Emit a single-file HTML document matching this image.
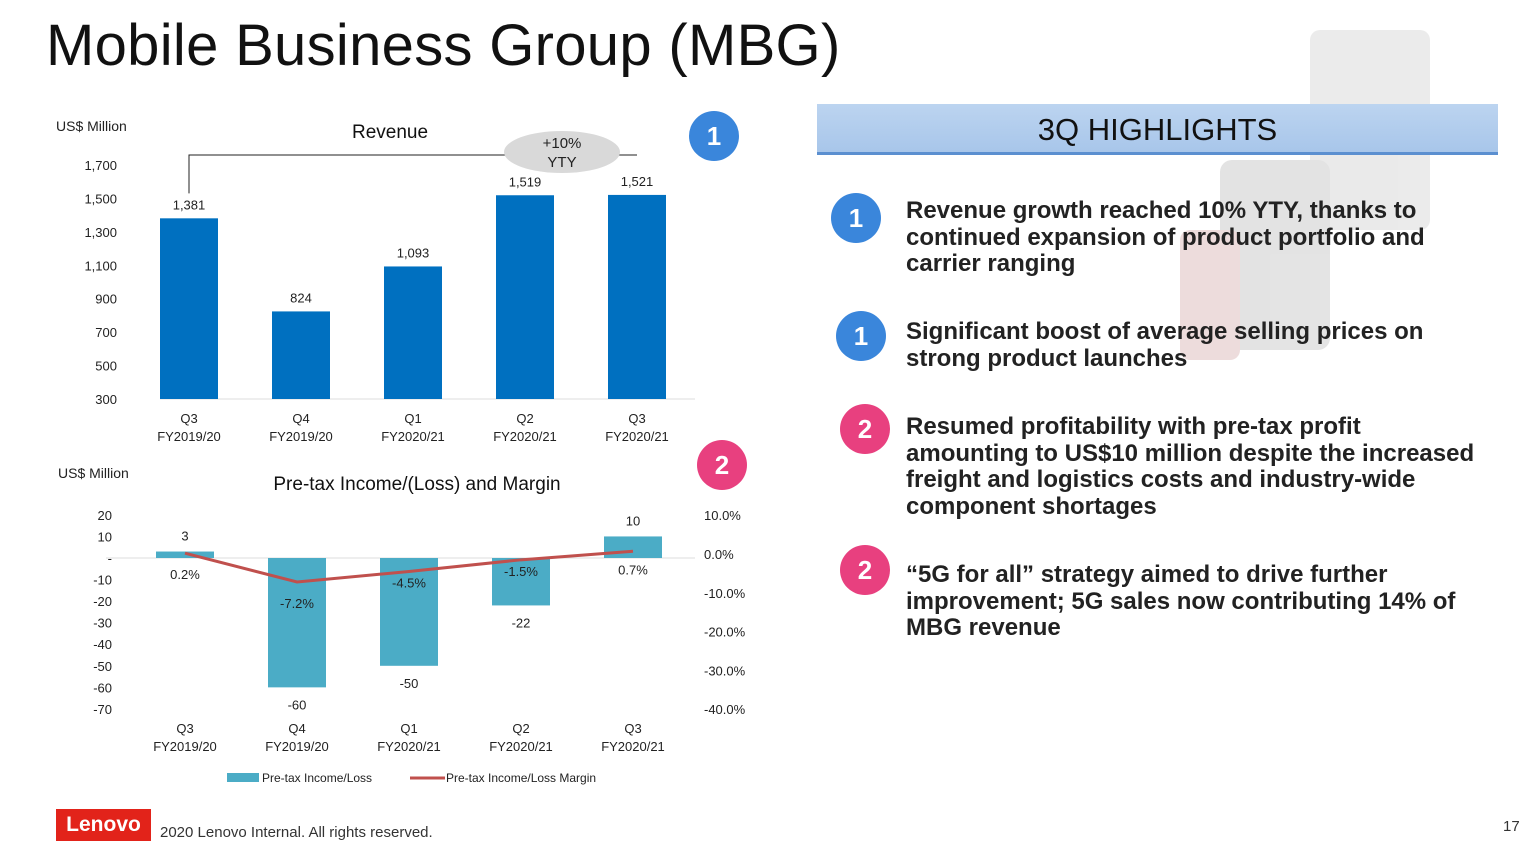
<!DOCTYPE html>
<html><head><meta charset="utf-8"><style>
body{margin:0;width:1525px;height:848px;background:#fff;overflow:hidden;position:relative;font-family:"Liberation Sans",sans-serif}
.a{position:absolute}
.hl{font-weight:bold;font-size:24px;color:#222;line-height:26.5px;position:absolute;left:906px;width:578px}
.num{position:absolute;width:50px;height:50px;border-radius:50%;color:#fff;font-size:26px;font-weight:bold;text-align:center;line-height:50px}
.blue{background:#3a86db}.pink{background:#e8407f}
</style></head><body>
<div class="a" style="left:46px;top:12px;font-size:58px;color:#111;letter-spacing:0.3px">Mobile Business Group (MBG)</div>
<div class="a" style="left:1160px;top:30px;width:330px;height:330px;opacity:.2">
<div class="a" style="left:150px;top:0;width:120px;height:200px;background:#999;border-radius:10px"></div>
<div class="a" style="left:60px;top:130px;width:110px;height:190px;background:#777;border-radius:12px"></div>
<div class="a" style="left:20px;top:200px;width:60px;height:130px;background:#a55;border-radius:10px"></div>
</div>
<svg class="a" style="left:0;top:0" width="780" height="800" id="svg" font-family="Liberation Sans, sans-serif"></svg>
<div class="num blue" style="left:689px;top:111px">1</div>
<div class="num pink" style="left:697px;top:440px">2</div>
<div class="a" style="left:817px;top:104px;width:681px;height:48px;background:linear-gradient(#bcd4f0,#a8c6ea);border-bottom:3px solid #5b8fd0;text-align:center;font-size:31px;line-height:52px;color:#111">3Q HIGHLIGHTS</div>
<div class="num blue" style="left:831px;top:193px">1</div>
<div class="hl" style="top:198px">Revenue growth reached 10% YTY, thanks to continued expansion of product portfolio and carrier ranging</div>
<div class="num blue" style="left:836px;top:311px">1</div>
<div class="hl" style="top:319px">Significant boost of average selling prices on strong product launches</div>
<div class="num pink" style="left:840px;top:404px">2</div>
<div class="hl" style="top:414px">Resumed profitability with pre-tax profit amounting to US$10 million despite the increased freight and logistics costs and industry-wide component shortages</div>
<div class="num pink" style="left:840px;top:545px">2</div>
<div class="hl" style="top:562px">“5G for all” strategy aimed to drive further improvement; 5G sales now contributing 14% of MBG revenue</div>
<div class="a" style="left:56px;top:809px;width:95px;height:32px;background:#e2231a;color:#fff;font-weight:bold;font-size:21px;text-align:center;line-height:32px">Lenovo</div>
<div class="a" style="left:160px;top:824px;font-size:15px;color:#333">2020 Lenovo Internal. All rights reserved.</div>
<div class="a" style="left:1503px;top:818px;font-size:15px;color:#333">17</div>
<script>
const cats1=["Q3","Q4","Q1","Q2","Q3"];
const cats2=["FY2019/20","FY2019/20","FY2020/21","FY2020/21","FY2020/21"];
const revenue=[1381,824,1093,1519,1521];
const revTicks=[300,500,700,900,1100,1300,1500,1700];
const pretax=[3,-60,-50,-22,10];
const margin=[0.2,-7.2,-4.5,-1.5,0.7];
const leftTicks=[20,10,0,-10,-20,-30,-40,-50,-60,-70];
const rightTicks=[10,0,-10,-20,-30,-40];
const svg=document.getElementById('svg');const NS='http://www.w3.org/2000/svg';
function el(t,a,txt,name){const e=document.createElementNS(NS,t);for(const k in a)e.setAttribute(k,a[k]);if(txt!==undefined)e.textContent=txt;


svg.appendChild(e);return e;}
const fmt=v=>v.toLocaleString('en-US');
const yR=v=>399-(v-300)*(234/1400);const xR=i=>189+i*112;
el('text',{x:56,y:131,'font-size':14,fill:'#222'},'US$ Million','rev-unit-label');
el('text',{x:390,y:138,'font-size':19,fill:'#111','text-anchor':'middle'},'Revenue','rev-title');
revTicks.forEach(t=>el('text',{x:117,y:yR(t)+5,'font-size':13,'text-anchor':'end',fill:'#222'},fmt(t),'rev-y-tick'));
el('line',{x1:160,y1:399,x2:695,y2:399,stroke:'#ddd'},undefined,'rev-x-axis');
revenue.forEach((v,i)=>{el('rect',{x:xR(i)-29,y:yR(v),width:58,height:399-yR(v),fill:'#0070c0'},undefined,'rev-bar');
el('text',{x:xR(i),y:yR(v)-9,'font-size':13,'text-anchor':'middle',fill:'#222'},fmt(v),'rev-value-label');
el('text',{x:xR(i),y:423,'font-size':13,'text-anchor':'middle',fill:'#222'},cats1[i],'rev-x-label');
el('text',{x:xR(i),y:441,'font-size':13,'text-anchor':'middle',fill:'#222'},cats2[i],'rev-x-label-year');});
el('polyline',{points:`189,${yR(revenue[0])-25} 189,155 637,155`,fill:'none',stroke:'#222'},undefined,'yty-bracket');
el('ellipse',{cx:562,cy:152,rx:58,ry:21,fill:'#d9d9d9'},undefined,'yty-bubble');
el('text',{x:562,y:148,'font-size':15,'text-anchor':'middle',fill:'#222'},'+10%','yty-text');
el('text',{x:562,y:167,'font-size':15,'text-anchor':'middle',fill:'#222'},'YTY','yty-text');
const yL=v=>558-v*2.156;const yP=v=>554-v*3.88;const xP=i=>185+i*112;
el('text',{x:58,y:478,'font-size':14,fill:'#222'},'US$ Million','pt-unit-label');
el('text',{x:417,y:490,'font-size':19,fill:'#111','text-anchor':'middle'},'Pre-tax Income/(Loss) and Margin','pt-title');
leftTicks.forEach(t=>el('text',{x:112,y:yL(t)+5,'font-size':13,'text-anchor':'end',fill:'#222'},t===0?'-':t,'pt-left-tick'));
rightTicks.forEach(t=>el('text',{x:704,y:yP(t)+5,'font-size':13,fill:'#222'},t.toFixed(1)+'%','pt-right-tick'));
el('line',{x1:106,y1:558,x2:695,y2:558,stroke:'#ddd'},undefined,'pt-zero-line');
pretax.forEach((v,i)=>{const y0=Math.min(yL(v),558),h=Math.abs(yL(v)-558);
el('rect',{x:xP(i)-29,y:y0,width:58,height:h,fill:'#4bacc6'},undefined,'pt-bar');
el('text',{x:xP(i),y:v>=0?yL(v)-11:yL(v)+22,'font-size':13,'text-anchor':'middle',fill:'#222'},v,'pt-value-label');
el('text',{x:xP(i),y:733,'font-size':13,'text-anchor':'middle',fill:'#222'},cats1[i],'pt-x-label');
el('text',{x:xP(i),y:751,'font-size':13,'text-anchor':'middle',fill:'#222'},cats2[i],'pt-x-label-year');
el('text',{x:xP(i),y:yP(margin[i])+(i===0?26:i===4?23:i===1?26:16),'font-size':13,'text-anchor':'middle',fill:'#222'},margin[i].toFixed(1)+'%','margin-label');});
el('polyline',{points:margin.map((m,i)=>xP(i)+','+yP(m)).join(' '),fill:'none',stroke:'#c0504d','stroke-width':3},undefined,'margin-line');
el('rect',{x:227,y:773,width:32,height:9,fill:'#4bacc6'},undefined,'legend-swatch-bar');
el('text',{x:262,y:782,'font-size':12,fill:'#222'},'Pre-tax Income/Loss','legend-label-bar');
el('line',{x1:410,y1:778,x2:445,y2:778,stroke:'#c0504d','stroke-width':3},undefined,'legend-swatch-line');
el('text',{x:446,y:782,'font-size':12,fill:'#222'},'Pre-tax Income/Loss Margin','legend-label-line');
</script>
</body></html>
